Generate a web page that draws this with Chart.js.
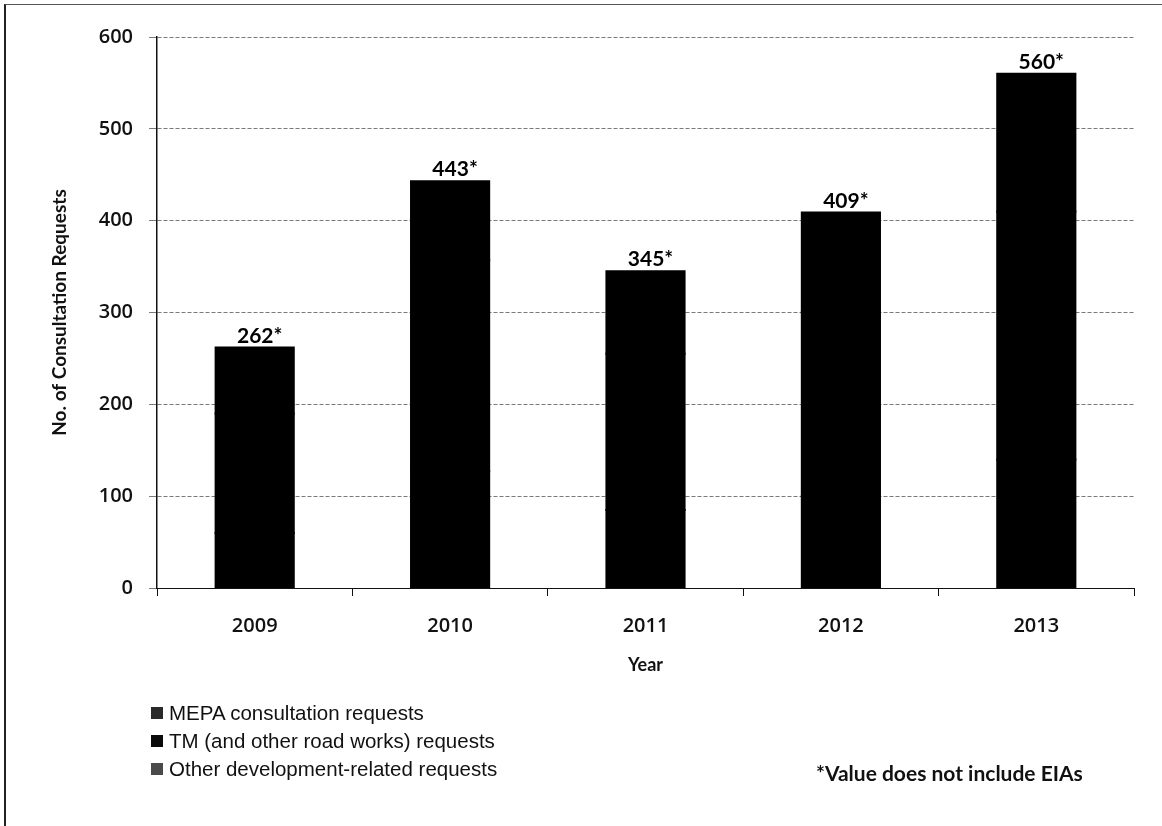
<!DOCTYPE html>
<html>
<head>
<meta charset="utf-8">
<script src="https://cdn.jsdelivr.net/npm/chart.js@4.4.1/dist/chart.umd.min.js"></script>
<style>
  html, body { margin: 0; padding: 0; background: #fff; }
  #wrap { position: relative; width: 1162px; height: 826px; overflow: hidden; }
  #frame { position: absolute; left: 4px; top: 4px; width: 1170px; height: 830px;
           border-left: 2px solid #222; border-top: 1px solid #555; }
  #chart { position: absolute; left: 0; top: 0; }
  .legend { position: absolute; left: 151px; top: 699px; font-family: "Liberation Sans", Arial, sans-serif;
            font-size: 20.5px; color: #111; line-height: 28px; }
  .legend span.box { display: inline-block; width: 12px; height: 12px; margin-right: 6px; vertical-align: 1px; }
  .note { position: absolute; left: 816px; top: 760px; font-family: Lato, sans-serif; font-weight: bold;
          font-size: 21px; color: #111; }
</style>
</head>
<body>
<div id="wrap">
  <div id="frame"></div>
  <canvas id="chart" width="1162" height="826"></canvas>
  <div class="legend" id="legend"></div>
  <div class="note">*Value does not include EIAs</div>
</div>
<script>
const years = ["2009", "2010", "2011", "2012", "2013"];
// segments are not distinguishable in the picture; split estimated so totals match the labels
const mepa = [60, 127, 85, 100, 140];
const tm = [130, 230, 170, 200, 270];
const other = [72, 86, 90, 109, 150];
const totals = [262, 443, 345, 409, 560];
const yTicks = [0, 100, 200, 300, 400, 500, 600];

const seriesNames = ["MEPA consultation requests", "TM (and other road works) requests", "Other development-related requests"];
const markerColors = ["#2a2a2a", "#0a0a0a", "#4a4a4a"];

const legend = document.getElementById("legend");
seriesNames.forEach((name, i) => {
  legend.innerHTML += `<div><span class="box" style="background:${markerColors[i]}"></span>${name}</div>`;
});

const totalLabels = {
  id: "totalLabels",
  afterDatasetsDraw(chart) {
    const ctx = chart.ctx;
    const meta = chart.getDatasetMeta(2);
    ctx.save();
    ctx.font = "bold 21px Lato, sans-serif";
    ctx.fillStyle = "#000";
    ctx.textAlign = "center";
    ctx.textBaseline = "bottom";
    meta.data.forEach((bar, i) => {
      ctx.fillText(totals[i] + "*", bar.x + 5, bar.y - 1);
    });
    ctx.restore();
  }
};

new Chart(document.getElementById("chart"), {
  type: "bar",
  data: {
    labels: years,
    datasets: [
      { label: seriesNames[0], data: mepa, backgroundColor: "#000" },
      { label: seriesNames[1], data: tm, backgroundColor: "#000" },
      { label: seriesNames[2], data: other, backgroundColor: "#000" }
    ]
  },
  options: {
    responsive: false,
    animation: false,
    layout: { padding: { left: 44, right: 28, top: 37, bottom: 146 } },
    datasets: { bar: { categoryPercentage: 1, barPercentage: 0.4, borderWidth: 0, inflateAmount: 1 } },
    plugins: { legend: { display: false }, tooltip: { enabled: false } },
    scales: {
      x: {
        stacked: true,
        afterFit: s => { s.height = 92; },
        grid: { offset: true, drawOnChartArea: false, tickLength: 8, color: "#111" },
        border: { color: "#111", width: 1 },
        ticks: { padding: 18, color: "#111", font: { family: "Open Sans", size: 20, weight: "600" } },
        title: { display: true, text: "Year", color: "#111", padding: { top: 4, bottom: 4 },
                 font: { family: "Lato", size: 18, weight: "bold" } }
      },
      y: {
        stacked: true,
        min: 0, max: 600,
        afterFit: s => { s.width = 113; },
        afterBuildTicks: s => { s.ticks = yTicks.map(v => ({ value: v })); },
        grid: { color: "#7a7a7a", tickLength: 8 },
        border: { color: "#111", width: 1.5, dash: [4, 2] },
        ticks: { padding: 16, color: "#111", font: { family: "Open Sans", size: 20, weight: "600" } },
        title: { display: true, text: "No. of Consultation Requests", color: "#111", padding: { top: 4, bottom: 4 },
                 font: { family: "Lato", size: 19, weight: "bold" } }
      }
    }
  },
  plugins: [totalLabels]
});
</script>
</body>
</html>
